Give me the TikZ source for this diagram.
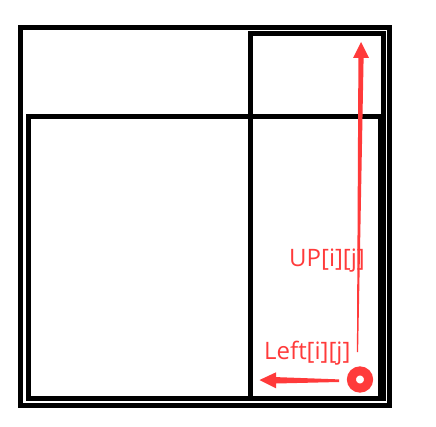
\documentclass[tikz,border=0pt]{standalone}
\usepackage{fontspec}
\setmainfont{Open Sans}
\usetikzlibrary{arrows.meta,calc}
\definecolor{myred}{RGB}{255,58,58}
\begin{document}
\begin{tikzpicture}[x=1pt,y=-1pt,
  box/.style={draw=black,line width=5pt},
  lbl/.style={text=myred,font=\fontsize{24}{24}\selectfont,inner sep=0pt,anchor=base west}]
\useasboundingbox (0,0) rectangle (436,427);
% frames
\draw[box] (20.5,27.5) rectangle (389.5,405.2);
\draw[box] (28.8,116.6) rectangle (380,398.3);
\draw[box] (250,33.6) rectangle (383.5,398.8);
% points
\coordinate (cell) at (360,379.5);
\coordinate (upfrom) at (357.5,352);
\coordinate (upbase) at (361,58);
\coordinate (upto) at (361,42);
\coordinate (leftfrom) at (339,380.7);
\coordinate (leftbase) at (276,380.3);
\coordinate (leftto) at (259.5,380);
% cell marker
\draw[myred,line width=9pt] (cell) circle (8.6);
% up arrow
\fill[myred] ($(upfrom)+(-0.6,0)$) -- ($(upfrom)+(0.6,0)$) -- ($(upbase)+(2.6,0)$) -- ($(upbase)+(-2.6,0)$) -- cycle;
\fill[myred] (upto) -- ($(upbase)+(8,0)$) -- ($(upbase)+(-8,0)$) -- cycle;
% left arrow
\fill[myred] ($(leftfrom)+(0,-1.3)$) -- ($(leftfrom)+(0,1.3)$) -- ($(leftbase)+(0,3.2)$) -- ($(leftbase)+(0,-3.2)$) -- cycle;
\fill[myred] (leftto) -- ($(leftbase)+(0,-8)$) -- ($(leftbase)+(0,8)$) -- cycle;
% labels
\node[lbl] (uplbl) at (289,267) {UP[i][j]};
\node[lbl] (leftlbl) at (264,359.3) {Left[i][j]};
\end{tikzpicture}
\end{document}
